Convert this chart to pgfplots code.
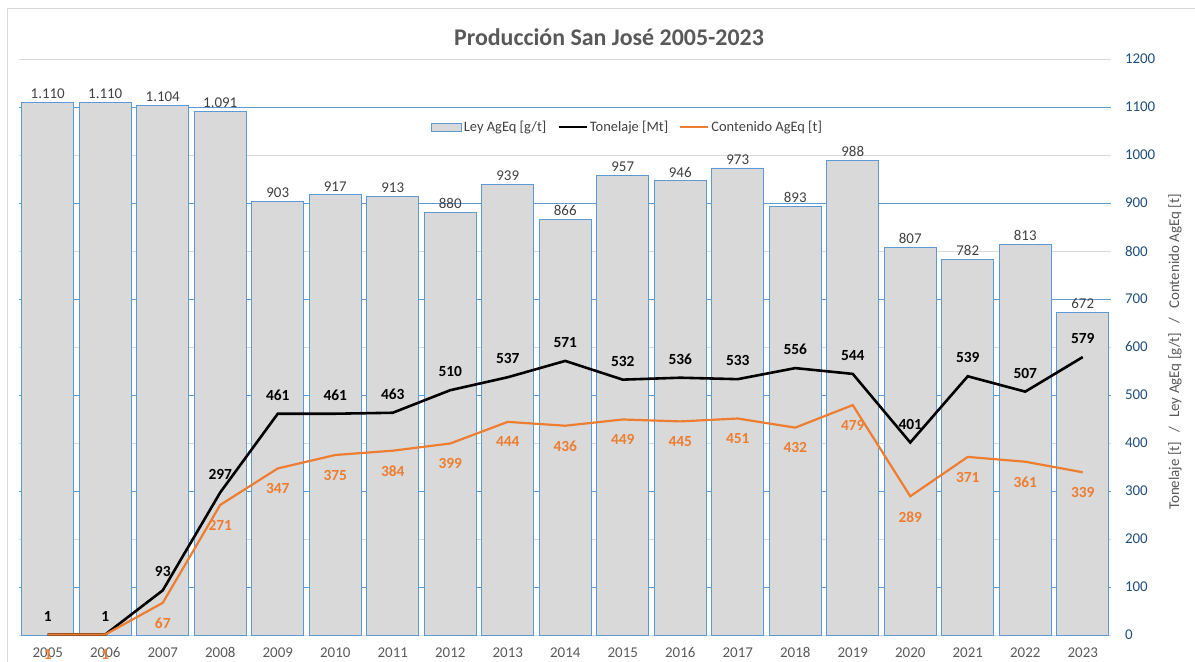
\documentclass[border=0pt]{standalone}
\usepackage{fontspec}
\setmainfont{Carlito}
\usepackage{pgfplots}
\pgfplotsset{compat=1.18}
\usetikzlibrary{calc}

\definecolor{barfill}{RGB}{217,217,217}
\definecolor{barline}{RGB}{91,155,213}
\definecolor{orangeline}{RGB}{237,125,49}
\definecolor{axisblue}{RGB}{31,78,121}
\definecolor{titlegray}{RGB}{89,89,89}
\definecolor{labelgray}{RGB}{64,64,64}
\definecolor{gridgray}{RGB}{217,217,217}

\begin{document}
\begin{tikzpicture}
\begin{axis}[
  name=ax,
  scale only axis,
  width=1092.5bp, height=576bp,
  xmin=-0.5, xmax=18.5,
  ymin=0, ymax=1200,
  axis line style={draw=none},
  tick style={draw=none},
  /pgf/number format/assume math mode=true,
  /pgf/number format/1000 sep={},
  xtick={0,...,18},
  xticklabels={2005,2006,2007,2008,2009,2010,2011,2012,2013,2014,2015,2016,2017,2018,2019,2020,2021,2022,2023},
  xticklabel style={font=\fontsize{15}{17}\selectfont, text=titlegray, text height=10bp, text depth=0pt, yshift=-9bp},
  ytick={0,200,...,1200},
  extra y ticks={100,300,...,1100},
  yticklabel pos=right,
  yticklabel style={font=\fontsize{15}{17}\selectfont, text=axisblue, xshift=10bp},
  ymajorgrids,
  major grid style={gridgray, line width=0.8pt},
  extra y tick style={major grid style={barline, line width=0.9pt}},
  legend style={at={(rel axis cs:0.557,0.882)}, anchor=center, draw=none, fill=none,
    font=\fontsize{14.5}{16}\selectfont, text=labelgray, legend columns=3,
    /tikz/every even column/.append style={column sep=9bp}},
  legend cell align=left,
]
% Ley AgEq [g/t]
\addplot[ybar, bar width=52bp, fill=barfill, draw=barline, line width=0.9pt,
  nodes near coords={\pgfmathprintnumber[1000 sep={.}]{\pgfplotspointmeta}},
  every node near coord/.append style={font=\fontsize{15}{17}\selectfont, text=labelgray},
  legend image code/.code={\draw[fill=barfill, draw=barline, line width=0.8pt] (0bp,-4bp) rectangle (30bp,4bp);}]
coordinates {
  (0,1110) (1,1110) (2,1104) (3,1091) (4,903) (5,917) (6,913) (7,880) (8,939) (9,866)
  (10,957) (11,946) (12,973) (13,893) (14,988) (15,807) (16,782) (17,813) (18,672)
};
\addlegendentry{Ley AgEq [g/t]}
% Tonelaje [Mt]
\addplot[black, line width=2.6pt, mark=none,
  nodes near coords,
  every node near coord/.append style={font=\bfseries\fontsize{15.5}{17}\selectfont, text=black, anchor=south, inner sep=0pt, yshift=12bp},
  legend image code/.code={\draw[black, line width=2.6pt] (0bp,0bp) -- (28bp,0bp);}]
coordinates {
  (0,1) (1,1) (2,93) (3,297) (4,461) (5,461) (6,463) (7,510) (8,537) (9,571)
  (10,532) (11,536) (12,533) (13,556) (14,544) (15,401) (16,539) (17,507) (18,579)
};
\addlegendentry{Tonelaje [Mt]}
% Contenido AgEq [t]
\addplot[orangeline, line width=2.2pt, mark=none,
  nodes near coords,
  every node near coord/.append style={font=\bfseries\fontsize{15.5}{17}\selectfont, text=orangeline, anchor=north, inner sep=0pt, yshift=-14bp},
  legend image code/.code={\draw[orangeline, line width=2.2pt] (0bp,0bp) -- (28bp,0bp);}]
coordinates {
  (0,1) (1,1) (2,67) (3,271) (4,347) (5,375) (6,384) (7,399) (8,444) (9,436)
  (10,449) (11,445) (12,451) (13,432) (14,479) (15,289) (16,371) (17,361) (18,339)
};
\addlegendentry{Contenido AgEq [t]}
\end{axis}
\node[font=\bfseries\fontsize{24}{28}\selectfont, text=titlegray] at ($(ax.north west)+(590bp,22bp)$) {Producción San José 2005-2023};
\node[rotate=90, font=\fontsize{15}{17}\selectfont, text=titlegray] at ($(ax.east)+(63.5bp,-5bp)$)
  {Tonelaje [t]\hspace{9bp}/\hspace{9bp}Ley AgEq [g/t]\hspace{9bp}/\hspace{9bp}Contenido AgEq [t]};
\draw[gridgray, line width=1pt] ($(ax.south west)+(-12bp,-40bp)$) -- ($(ax.south west)+(-12bp,626bp)$) -- ($(ax.south west)+(1200bp,626bp)$);
\pgfresetboundingbox
\path ($(ax.south west)+(-19bp,-27bp)$) rectangle ($(ax.south west)+(1176bp,635bp)$);
\end{tikzpicture}
\end{document}
